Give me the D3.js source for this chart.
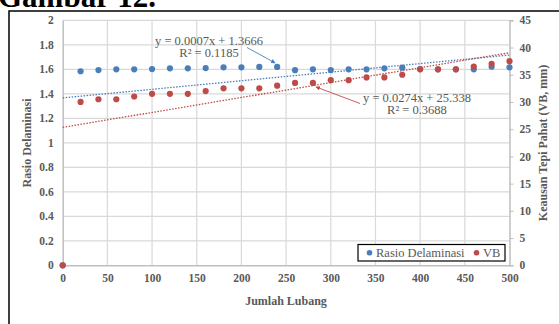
<!DOCTYPE html>
<html><head><meta charset="utf-8">
<script src="https://cdn.jsdelivr.net/npm/d3@7"></script>
<style>body{margin:0;background:#fff}svg{display:block}text{font-family:"Liberation Serif","Times New Roman",serif}</style>
</head><body>
<script>
const holes = [0,20,40,60,80,100,120,140,160,180,200,220,240,260,280,300,320,340,360,380,400,420,440,460,480,500];
const rasio = [0,1.584,1.594,1.600,1.600,1.602,1.608,1.608,1.610,1.616,1.616,1.619,1.619,1.593,1.600,1.594,1.600,1.600,1.608,1.613,1.602,1.600,1.600,1.600,1.621,1.616];
const vb = [0,30.0,30.5,30.5,31.0,31.5,31.5,31.5,32.0,32.5,32.5,32.5,33.0,33.5,33.5,34.0,34.0,34.5,34.5,35.0,36.0,36.0,36.0,36.5,37.0,37.5];
const xTicks = [0,50,100,150,200,250,300,350,400,450,500];
const yLeftTicks = [0,0.2,0.4,0.6,0.8,1,1.2,1.4,1.6,1.8,2];
const yRightTicks = [0,5,10,15,20,25,30,35,40,45];
const trendRasio = {slope:0.0007, intercept:1.3666, eq:"y = 0.0007x + 1.3666", r2:"R² = 0.1185"};
const trendVB = {slope:0.0274, intercept:25.338, eq:"y = 0.0274x + 25.338", r2:"R² = 0.3688"};
const seriesNames = ["Rasio Delaminasi","VB"];

const W=559,H=324;
const svg=d3.select("body").append("svg").attr("width",W).attr("height",H);
const x=d3.scaleLinear().domain([0,500]).range([62.7,509.5]);
const yL=d3.scaleLinear().domain([0,2]).range([265.3,20.3]);
const yR=d3.scaleLinear().domain([0,45]).range([265.3,20.3]);
const blue="#4a7ebb", red="#be4b48", grey="#595959";

// title
svg.append("text").attr("x",-2).attr("y",7).attr("font-size",31).attr("font-weight","bold").attr("fill","#000").text("Gambar 12.");
// outer border
svg.append("rect").attr("x",9).attr("y",11).attr("width",600).attr("height",400).attr("fill","none").attr("stroke","#000").attr("stroke-width",1.5);

// grid
svg.append("g").selectAll("line").data(yLeftTicks.slice(1)).join("line")
  .attr("x1",x(0)).attr("x2",x(500)).attr("y1",d=>yL(d)).attr("y2",d=>yL(d)).attr("stroke","#d9d9d9").attr("stroke-width",1.2);
svg.append("g").selectAll("line").data(xTicks.slice(1,-1)).join("line")
  .attr("x1",d=>x(d)).attr("x2",d=>x(d)).attr("y1",yL(0)).attr("y2",yL(2)).attr("stroke","#d9d9d9").attr("stroke-width",1.2);

// axes
const axL=svg.append("g").attr("transform",`translate(${x(0)},0)`).call(d3.axisLeft(yL).tickValues(yLeftTicks).tickSize(0).tickPadding(9).tickFormat(d3.format("")));
const axR=svg.append("g").attr("transform",`translate(${x(500)},0)`).call(d3.axisRight(yR).tickValues(yRightTicks).tickSize(4).tickPadding(6));
const axB=svg.append("g").attr("transform",`translate(0,${yL(0)})`).call(d3.axisBottom(x).tickValues(xTicks).tickSize(0).tickPadding(9));
[axL,axR,axB].forEach(a=>{
  a.selectAll(".domain").attr("stroke","#bfbfbf").attr("stroke-width",1.5);
  a.selectAll(".tick line").attr("stroke","#bfbfbf");
  a.selectAll("text").attr("font-family","'Liberation Serif',serif").attr("font-size",11.5).attr("font-weight","bold").attr("fill",grey);
});

// trendlines
function trend(t,ys,color){
  svg.append("line").attr("x1",x(0)).attr("x2",x(500)).attr("y1",ys(t.intercept)).attr("y2",ys(t.intercept+t.slope*500))
    .attr("stroke",color).attr("stroke-width",1.3).attr("stroke-dasharray","1.5,1.5");
}
trend(trendRasio,yL,blue);
trend(trendVB,yR,red);

// points
svg.append("g").selectAll("circle").data(holes).join("circle")
  .attr("cx",d=>x(d)).attr("cy",(d,i)=>yL(rasio[i])).attr("r",3.1).attr("fill",blue);
svg.append("g").selectAll("circle").data(holes).join("circle")
  .attr("cx",d=>x(d)).attr("cy",(d,i)=>yR(vb[i])).attr("r",3.1).attr("fill",red);

// equation labels
function eqLabel(t,cx,y1,anchor){
  const g=svg.append("g").attr("font-size",12.5).attr("fill",grey);
  g.append("text").attr("x",cx).attr("y",y1).attr("text-anchor",anchor).text(t.eq);
  g.append("text").attr("x",cx).attr("y",y1+11.5).attr("text-anchor",anchor).text(t.r2);
}
eqLabel(trendRasio,209,45,"middle");
eqLabel(trendVB,417,102,"middle");
// arrows
const defs=svg.append("defs");
[["ab",blue],["ar",red]].forEach(([id,c])=>{
  defs.append("marker").attr("id",id).attr("viewBox","0 0 10 10").attr("refX",9).attr("refY",5)
   .attr("markerWidth",5).attr("markerHeight",5).attr("orient","auto")
   .append("path").attr("d","M0,0L10,5L0,10z").attr("fill",c);
});
svg.append("line").attr("x1",247).attr("y1",47.5).attr("x2",x(240)-2).attr("y2",yL(rasio[12])-4)
  .attr("stroke",blue).attr("stroke-width",0.9).attr("marker-end","url(#ab)");
svg.append("line").attr("x1",360).attr("y1",103.5).attr("x2",x(280)+3).attr("y2",yR(vb[14])+4)
  .attr("stroke",red).attr("stroke-width",0.9).attr("marker-end","url(#ar)");

// axis titles
svg.append("text").attr("x",286).attr("y",305).attr("text-anchor","middle").attr("font-size",12).attr("font-weight","bold").attr("fill",grey).text("Jumlah Lubang");
svg.append("text").attr("transform","translate(31,143) rotate(-90)").attr("text-anchor","middle").attr("font-size",12).attr("font-weight","bold").attr("fill",grey).text("Rasio Delaminasi");
svg.append("text").attr("transform","translate(547,143) rotate(-90)").attr("text-anchor","middle").attr("font-size",12).attr("font-weight","bold").attr("fill",grey).text("Keausan Tepi Pahat (VB, mm)");

// legend
const lg=svg.append("g");
lg.append("rect").attr("x",358).attr("y",244.5).attr("width",147).attr("height",16.5).attr("fill","#fff").attr("stroke","#000").attr("stroke-width",1.2);
const colors=[blue,red], lx=[369.5,476.5], tx=[376,483];
seriesNames.forEach((n,i)=>{
  lg.append("circle").attr("cx",lx[i]).attr("cy",252.8).attr("r",2.8).attr("fill",colors[i]);
  lg.append("text").attr("x",tx[i]).attr("y",257).attr("font-size",12.5).attr("fill",grey).text(n);
});
</script>
</body></html>
